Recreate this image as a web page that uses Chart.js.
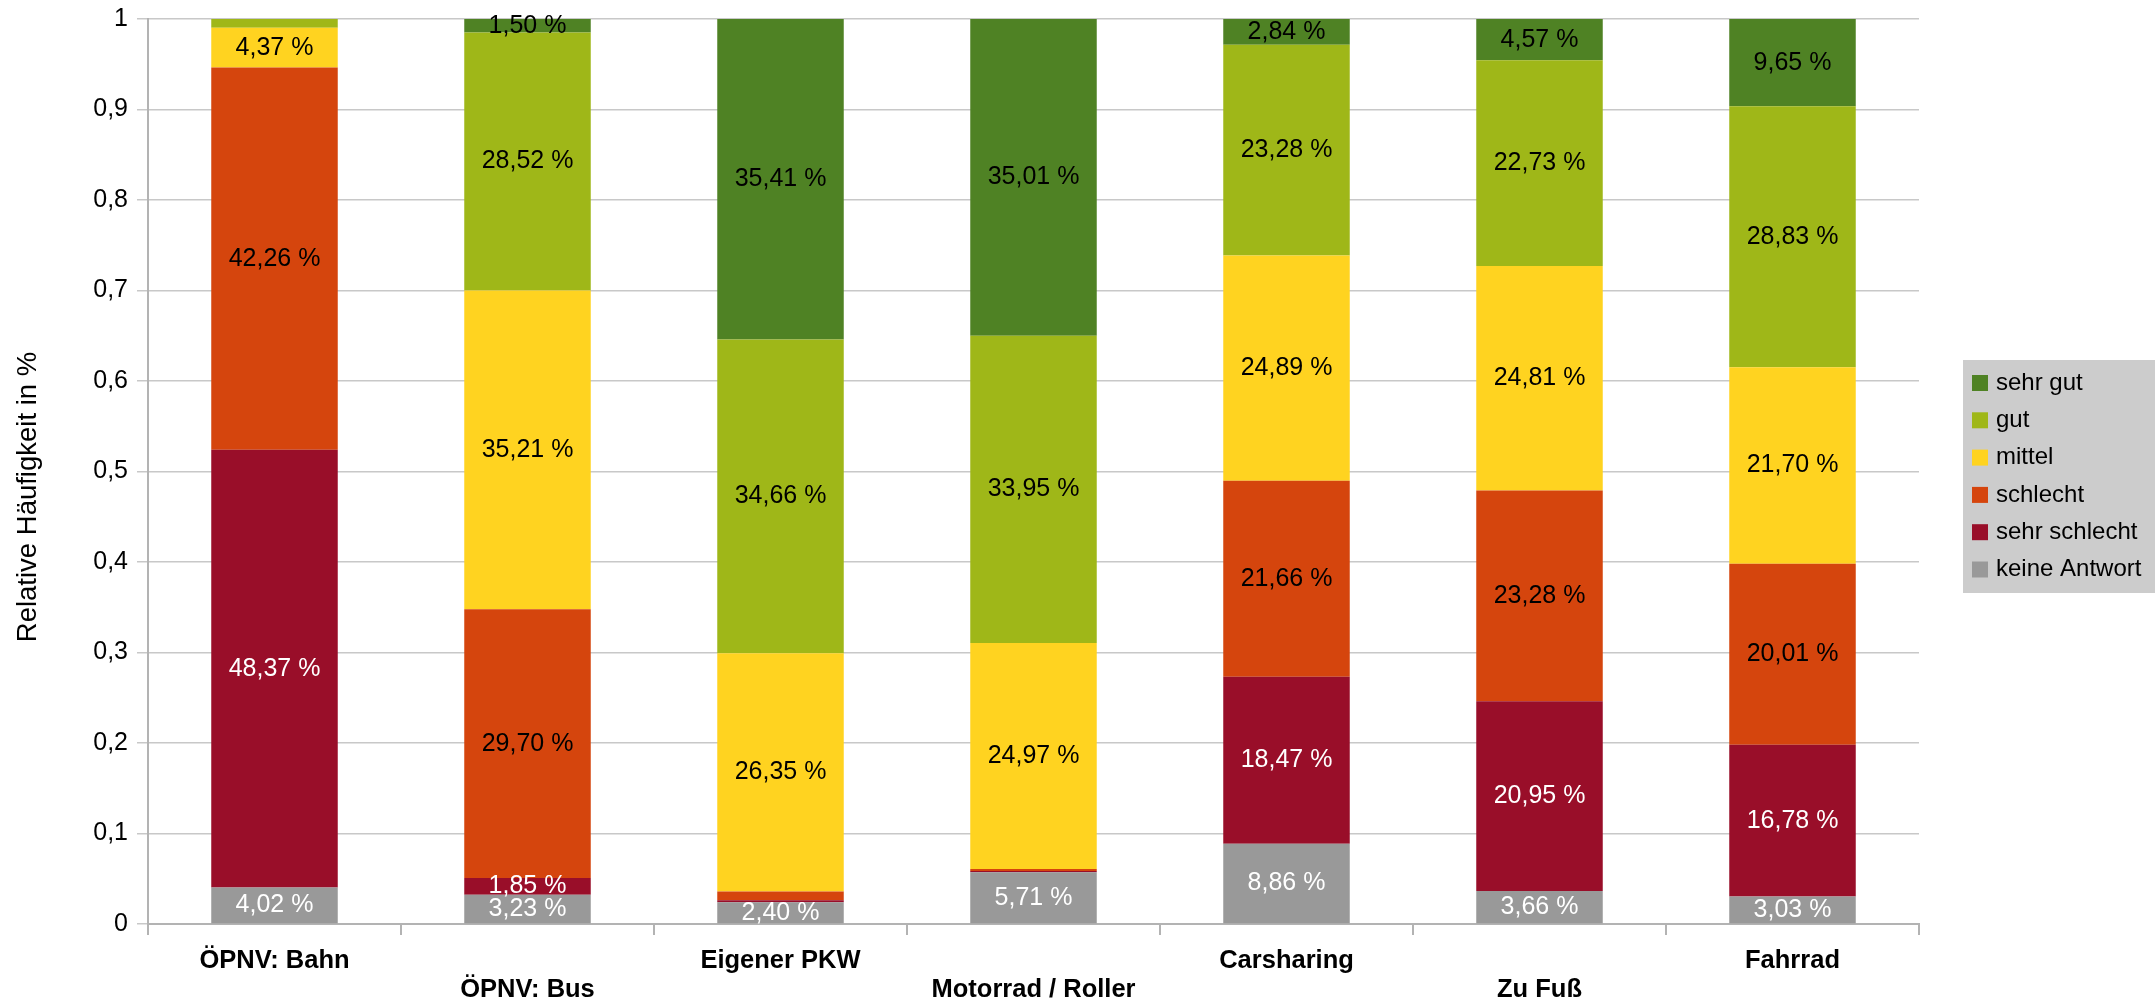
<!DOCTYPE html>
<html>
<head>
<meta charset="utf-8">
<title>Bewertung der Verkehrsmittel</title>
<script src="https://cdn.jsdelivr.net/npm/chart.js@4/dist/chart.umd.min.js"></script>
<style>
  html, body { margin: 0; padding: 0; background: #ffffff; overflow: hidden; }
  #wrap { width: 2155px; height: 1000px; }
</style>
</head>
<body>
<div id="wrap"><canvas id="chart" width="2155" height="1000"></canvas></div>
<script>
// Verkehrsmittel (x-Achse)
const categories = ['ÖPNV: Bahn', 'ÖPNV: Bus', 'Eigener PKW', 'Motorrad / Roller', 'Carsharing', 'Zu Fuß', 'Fahrrad'];

// Antworten in Prozent, gestapelt von unten nach oben
const keineAntwort = [4.02, 3.23, 2.40, 5.71, 8.86, 3.66, 3.03];
const sehrSchlecht = [48.37, 1.85, 0.22, 0.16, 18.47, 20.95, 16.78];
const schlecht     = [42.26, 29.70, 0.96, 0.20, 21.66, 23.28, 20.01];
const mittel       = [4.37, 35.21, 26.35, 24.97, 24.89, 24.81, 21.70];
const gut          = [0.98, 28.52, 34.66, 33.95, 23.28, 22.73, 28.83];
const sehrGut      = [0.00, 1.50, 35.41, 35.01, 2.84, 4.57, 9.65];

// Beschriftung der y-Achse (relative Häufigkeit)
const yTickLabels = ['0', '0,1', '0,2', '0,3', '0,4', '0,5', '0,6', '0,7', '0,8', '0,9', '1'];

const FONT = '"Liberation Sans", Arial, sans-serif';

// every second category label goes on a lower row
const staggeredLabels = categories.map((c, i) => (i % 2 === 0 ? [c] : ['', c]));

function series(label, pct, color, labelColor) {
  return {
    label: label,
    data: pct.map(v => v / 100),
    pct: pct,
    backgroundColor: color,
    borderWidth: 0,
    labelColor: labelColor
  };
}

const datasets = [
  series('keine Antwort', keineAntwort, '#999999', '#ffffff'),
  series('sehr schlecht', sehrSchlecht, '#990e29', '#ffffff'),
  series('schlecht', schlecht, '#d5450d', '#000000'),
  series('mittel', mittel, '#ffd320', '#000000'),
  series('gut', gut, '#9fb718', '#000000'),
  series('sehr gut', sehrGut, '#4f8224', '#000000')
];

// percentage text in the middle of each segment
const valueLabels = {
  id: 'valueLabels',
  afterDatasetsDraw(chart) {
    const ctx = chart.ctx;
    ctx.save();
    ctx.font = '25px ' + FONT;
    ctx.textAlign = 'center';
    ctx.textBaseline = 'middle';
    chart.data.datasets.forEach((ds, i) => {
      const meta = chart.getDatasetMeta(i);
      meta.data.forEach((bar, j) => {
        const v = ds.pct[j];
        if (v < 1) return;
        ctx.fillStyle = ds.labelColor;
        ctx.fillText(v.toFixed(2).replace('.', ',') + ' %', bar.x, (bar.y + bar.base) / 2);
      });
    });
    ctx.restore();
  }
};

// legend box at the right, top entry = top segment
const sideLegend = {
  id: 'sideLegend',
  afterDraw(chart, args, o) {
    const ctx = chart.ctx;
    ctx.save();
    ctx.fillStyle = o.background;
    ctx.fillRect(o.left, o.top, o.width, o.height);
    ctx.font = o.fontSize + 'px ' + FONT;
    ctx.textAlign = 'left';
    ctx.textBaseline = 'middle';
    const items = chart.data.datasets.slice().reverse();
    items.forEach((ds, k) => {
      const cy = o.firstRow + k * o.rowGap;
      ctx.fillStyle = ds.backgroundColor;
      ctx.fillRect(o.boxX, cy - o.boxSize / 2, o.boxSize, o.boxSize);
      ctx.fillStyle = '#000000';
      ctx.fillText(ds.label, o.textX, cy);
    });
    ctx.restore();
  }
};

// rotated y-axis title
const yTitle = {
  id: 'yTitle',
  afterDraw(chart, args, o) {
    const ctx = chart.ctx;
    ctx.save();
    ctx.translate(o.x, o.y);
    ctx.rotate(-Math.PI / 2);
    ctx.font = o.fontSize + 'px ' + FONT;
    ctx.fillStyle = '#000000';
    ctx.textAlign = 'center';
    ctx.textBaseline = 'middle';
    ctx.fillText(o.text, 0, 0);
    ctx.restore();
  }
};

new Chart(document.getElementById('chart'), {
  type: 'bar',
  data: { labels: staggeredLabels, datasets: datasets },
  plugins: [valueLabels, sideLegend, yTitle],
  options: {
    responsive: false,
    devicePixelRatio: 1,
    animation: false,
    layout: { padding: { top: 19, right: 236, left: 0, bottom: 0 } },
    datasets: { bar: { barPercentage: 0.5, categoryPercentage: 1.0 } },
    scales: {
      x: {
        stacked: true,
        grid: { display: true, drawOnChartArea: false, drawTicks: true, tickLength: 11, color: '#b3b3b3', lineWidth: 2, offset: true },
        border: { display: true, color: '#b3b3b3', width: 2 },
        ticks: {
          color: '#000000',
          font: { family: FONT, size: 25.5, weight: 'bold', lineHeight: '29px' },
          padding: 11,
          maxRotation: 0,
          minRotation: 0,
          autoSkip: false
        },
        afterFit(scale) { scale.height = 76; }
      },
      y: {
        stacked: true,
        min: 0,
        max: 1,
        grid: { color: '#c8c8c8', lineWidth: 1.5, tickLength: 11, drawTicks: true },
        border: { display: true, color: '#b3b3b3', width: 2 },
        ticks: {
          stepSize: 0.1,
          color: '#000000',
          font: { family: FONT, size: 25 },
          padding: 9,
          callback: (v) => yTickLabels[Math.round(v * 10)]
        },
        afterFit(scale) {
          scale.width = 148;
          scale.paddingTop = 0;
          scale.paddingBottom = 0;
        }
      }
    },
    plugins: {
      legend: { display: false },
      tooltip: { enabled: false },
      sideLegend: {
        background: '#cccccc',
        left: 1963, top: 360, width: 192, height: 233,
        boxX: 1972, boxSize: 16, textX: 1996,
        firstRow: 383, rowGap: 37.3,
        fontSize: 24
      },
      yTitle: { text: 'Relative Häufigkeit in %', x: 28, y: 497, fontSize: 27.5 }
    }
  }
});
</script>
</body>
</html>
